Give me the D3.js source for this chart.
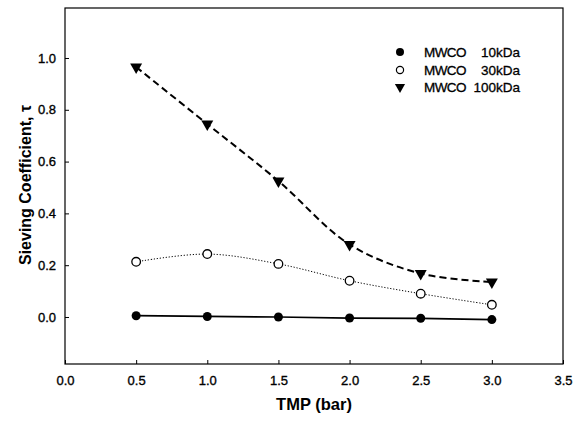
<!DOCTYPE html>
<html><head><meta charset="utf-8">
<script src="https://cdn.jsdelivr.net/npm/d3@7"></script>
<style>body{margin:0;background:#fff}svg{display:block}text{font-family:"Liberation Sans",Arial,sans-serif;fill:#000}</style>
</head><body><svg id="c" width="580" height="421"></svg>
<script>
const tmp = [0.5, 1.0, 1.5, 2.0, 2.5, 3.0];
const mwco10 = [0.005, 0.002, 0.0, -0.004, -0.005, -0.01];
const mwco30 = [0.213, 0.243, 0.205, 0.14, 0.09, 0.047];
const mwco100 = [0.965, 0.745, 0.525, 0.28, 0.168, 0.135];
const xTicks = [0.0, 0.5, 1.0, 1.5, 2.0, 2.5, 3.0, 3.5];
const yTicks = [0.0, 0.2, 0.4, 0.6, 0.8, 1.0];
const legendNames = ["10kDa", "30kDa", "100kDa"];

const svg = d3.select("#c");
const L = 65, R = 563, T = 8, B = 364;
const x = d3.scaleLinear().domain([0, 3.5]).range([L, R]);
const y = d3.scaleLinear().domain([-0.1815, 1.193]).range([B, T]);

// frame
svg.append("rect").attr("x", L).attr("y", T).attr("width", R - L).attr("height", B - T)
  .attr("fill", "none").attr("stroke", "#000").attr("stroke-width", 1.2);

// axes
const xa = svg.append("g").attr("transform", `translate(0,${B})`)
  .call(d3.axisBottom(x).tickValues(xTicks).tickFormat(d3.format(".1f")).tickSizeInner(-4).tickSizeOuter(0).tickPadding(12));
const ya = svg.append("g").attr("transform", `translate(${L},0)`)
  .call(d3.axisLeft(y).tickValues(yTicks).tickFormat(d3.format(".1f")).tickSizeInner(-4).tickSizeOuter(0).tickPadding(9));
[xa, ya].forEach(g => {
  g.select(".domain").remove();
  g.selectAll("line").attr("stroke", "#000");
  g.selectAll("text").attr("font-size", 13).attr("font-family", "'Liberation Sans',Arial,sans-serif")
    .attr("fill", "#000").attr("stroke", "#000").attr("stroke-width", 0.35);
});

// axis titles
svg.append("text").attr("x", 314).attr("y", 410).attr("text-anchor", "middle")
  .attr("font-size", 16.5).attr("font-weight", "bold").text("TMP (bar)");
svg.append("text").attr("transform", "translate(31,185) rotate(-90)").attr("text-anchor", "middle")
  .attr("font-size", 16).attr("font-weight", "bold").text("Sieving Coefficient, τ");

const line = (vals, curve) => d3.line().x((d, i) => x(tmp[i])).y(d => y(d)).curve(curve)(vals);

svg.append("path").attr("d", line(mwco10, d3.curveLinear)).attr("fill", "none")
  .attr("stroke", "#000").attr("stroke-width", 1.7);
svg.append("path").attr("d", line(mwco30, d3.curveCatmullRom)).attr("fill", "none")
  .attr("stroke", "#000").attr("stroke-width", 1).attr("stroke-dasharray", "1.2,1.8");
svg.append("path").attr("d", line(mwco100, d3.curveCatmullRom)).attr("fill", "none")
  .attr("stroke", "#000").attr("stroke-width", 2).attr("stroke-dasharray", "7,4");

const tri = d3.symbol().type(d3.symbolTriangle).size(62);

svg.selectAll(".m10").data(mwco10).enter().append("circle")
  .attr("cx", (d, i) => x(tmp[i])).attr("cy", d => y(d)).attr("r", 4.5).attr("fill", "#000");
svg.selectAll(".m30").data(mwco30).enter().append("circle")
  .attr("cx", (d, i) => x(tmp[i])).attr("cy", d => y(d)).attr("r", 4.3)
  .attr("fill", "#fff").attr("stroke", "#000").attr("stroke-width", 1.3);
svg.selectAll(".m100").data(mwco100).enter().append("path")
  .attr("d", tri).attr("transform", (d, i) => `translate(${x(tmp[i])},${y(d)}) rotate(180)`).attr("fill", "#000");

// legend
const ly = [52, 70, 87];
const lg = svg.append("g");
lg.append("circle").attr("cx", 400).attr("cy", ly[0]).attr("r", 4).attr("fill", "#000");
lg.append("circle").attr("cx", 400).attr("cy", ly[1]).attr("r", 3.6).attr("fill", "#fff").attr("stroke", "#000").attr("stroke-width", 1.2);
lg.append("path").attr("d", d3.symbol().type(d3.symbolTriangle).size(45)()).attr("transform", `translate(400,${ly[2]}) rotate(180)`).attr("fill", "#000");
legendNames.forEach((n, i) => {
  lg.append("text").attr("x", 424).attr("y", ly[i] + 5).attr("font-size", 13.5).attr("letter-spacing", -0.6)
    .attr("stroke", "#000").attr("stroke-width", 0.3).text("MWCO");
  lg.append("text").attr("x", 520).attr("y", ly[i] + 5).attr("font-size", 13.5).attr("text-anchor", "end")
    .attr("stroke", "#000").attr("stroke-width", 0.3).text(n);
});
</script></body></html>
